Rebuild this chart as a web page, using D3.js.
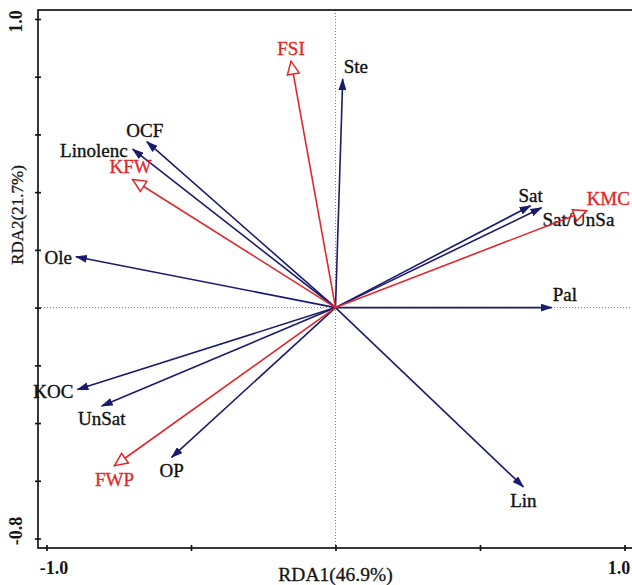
<!DOCTYPE html>
<html><head><meta charset="utf-8">
<script src="https://cdn.jsdelivr.net/npm/d3@7"></script>
<style>body{margin:0;background:#fff;} svg{display:block;} svg text{font-family:"Liberation Serif","Times New Roman",Times,serif;}</style>
</head><body>
<svg id="chart" width="632" height="585"></svg>
<script>
// ---- data ----
const speciesNames = ["Ste","OCF","Linolenc","Ole","Sat","Sat/UnSa","Pal","Lin","KOC","UnSat","OP"];
const speciesRDA1  = [0.025,-0.653,-0.702,-0.898,0.675,0.713,0.748,0.650,-0.893,-0.809,-0.567];
const speciesRDA2  = [0.792, 0.575, 0.549, 0.176,0.353,0.346,0.000,-0.621,-0.284,-0.341,-0.519];
const envNames = ["FSI","KFW","KMC","FWP"];
const envRDA1  = [-0.154,-0.702,0.869,-0.765];
const envRDA2  = [ 0.854, 0.444,0.336,-0.548];
const xTicks = [-1.0,-0.5,0,0.5,1.0];
const yTicks = [-0.8,-0.6,-0.4,-0.2,0,0.2,0.4,0.6,0.8,1.0];
const xTickLabels = {"-1":"-1.0","1":"1.0"};
const yTickLabels = {"-0.8":"-0.8","1":"1.0"};
const xTitle = "RDA1(46.9%)";
const yTitle = "RDA2(21.7%)";

// ---- layout / style ----
const BLUE = "#1b1b6e", RED = "#e0282c", INK = "#151515";
const svg = d3.select("#chart");
const x = d3.scaleLinear().domain([-1,1]).range([46.5,624.5]);
const y = d3.scaleLinear().domain([-0.8,1]).range([538.5,19]);
const fLeft = 38, fTop = 10, fBottom = 548, fRight = 640;

const labelPos = {
  "Ste":{a:"start",dx:1,dy:-6}, "OCF":{a:"middle",dx:-2,dy:-5},
  "Linolenc":{a:"end",dx:-5,dy:8}, "Ole":{a:"end",dx:-4,dy:7},
  "Sat":{a:"middle",dx:0,dy:-4}, "Sat/UnSa":{a:"start",dx:1,dy:18},
  "Pal":{a:"start",dx:1,dy:-7}, "Lin":{a:"middle",dx:0,dy:20},
  "KOC":{a:"end",dx:-4,dy:8}, "UnSat":{a:"middle",dx:0,dy:19},
  "OP":{a:"middle",dx:0,dy:20},
  "FSI":{a:"middle",dx:0,dy:-6}, "KFW":{a:"middle",dx:-2,dy:-6},
  "KMC":{a:"start",dx:0,dy:-6}, "FWP":{a:"middle",dx:0,dy:20}
};

const defs = svg.append("defs");
defs.append("marker").attr("id","headB").attr("viewBox","0 0 12 8")
  .attr("refX",11).attr("refY",4).attr("markerWidth",12).attr("markerHeight",8)
  .attr("markerUnits","userSpaceOnUse").attr("orient","auto")
  .append("path").attr("d","M0,0 L12,4 L0,8 Z").attr("fill",BLUE);
defs.append("marker").attr("id","headR").attr("viewBox","-2 -2 18 16")
  .attr("refX",13).attr("refY",6).attr("markerWidth",18).attr("markerHeight",16)
  .attr("markerUnits","userSpaceOnUse").attr("orient","auto")
  .append("path").attr("d","M0,0 L13,6 L0,12 Z").attr("fill","#fff")
  .attr("stroke",RED).attr("stroke-width",1.5);

// dotted zero lines
svg.append("line").attr("x1",fLeft).attr("x2",fRight).attr("y1",y(0)).attr("y2",y(0))
  .attr("stroke","#777").attr("stroke-width",1).attr("stroke-dasharray","1,2");
svg.append("line").attr("x1",x(0)).attr("x2",x(0)).attr("y1",fTop).attr("y2",fBottom)
  .attr("stroke","#777").attr("stroke-width",1).attr("stroke-dasharray","1,2");

// frame
svg.append("rect").attr("x",fLeft).attr("y",fTop).attr("width",fRight-fLeft).attr("height",fBottom-fTop)
  .attr("fill","none").attr("stroke",INK).attr("stroke-width",1.7);

// axes
const gx = svg.append("g").attr("transform",`translate(0,${fBottom})`)
  .call(d3.axisBottom(x).tickValues(xTicks).tickSize(3).tickSizeOuter(0)
    .tickFormat(d => xTickLabels[String(d)] || ""));
gx.attr("font-family",null);
gx.select(".domain").remove();
gx.selectAll(".tick line").attr("y1",-3).attr("y2",3).attr("stroke",INK).attr("stroke-width",1.7);
gx.selectAll(".tick text").attr("y",13).attr("font-weight","bold")
  .attr("font-size",18).attr("fill",INK)
  .attr("dx", d => d === 1 ? -6 : 7);

const gy = svg.append("g").attr("transform",`translate(${fLeft},0)`)
  .call(d3.axisLeft(y).tickValues(yTicks).tickSize(3).tickSizeOuter(0).tickFormat(""));
gy.attr("font-family",null);
gy.select(".domain").remove();
gy.selectAll(".tick line").attr("x1",-3).attr("x2",3).attr("stroke",INK).attr("stroke-width",1.7);
const yLabOffset = {"-0.8":-8,"1":2};
gy.selectAll(".tick").each(function(d){
  const t = yTickLabels[String(d)];
  if(!t) return;
  d3.select(this).append("text").text(t)
    .attr("transform",`translate(-22,${yLabOffset[String(d)]}) rotate(-90)`)
    .attr("text-anchor","middle").attr("dy","0.35em")
    .attr("font-weight","bold").attr("font-size",18).attr("fill",INK);
});

// titles
svg.append("text").text(xTitle).attr("x",x(0)).attr("y",581).attr("text-anchor","middle")
  .attr("font-size",19.5).attr("fill",INK).attr("stroke",INK).attr("stroke-width",0.3);
svg.append("text").text(yTitle).attr("transform",`translate(23,${(165+265)/2}) rotate(-90)`)
  .attr("text-anchor","middle").attr("font-size",17).attr("fill",INK).attr("stroke",INK).attr("stroke-width",0.3);

// arrows
function drawSet(names, xs, ys, color, marker){
  const d = names.map((n,i)=>({n, vx:xs[i], vy:ys[i]}));
  svg.append("g").selectAll("line").data(d).join("line")
    .attr("x1",x(0)).attr("y1",y(0)).attr("x2",e=>x(e.vx)).attr("y2",e=>y(e.vy))
    .attr("stroke",color).attr("stroke-width",1.6).attr("marker-end",`url(#${marker})`);
  const tc = color===BLUE ? "#111" : RED;
  svg.append("g").selectAll("text").data(d).join("text")
    .attr("x",e=>x(e.vx)+labelPos[e.n].dx).attr("y",e=>y(e.vy)+labelPos[e.n].dy)
    .attr("text-anchor",e=>labelPos[e.n].a)
    .attr("font-size",19)
    .attr("fill", tc).attr("stroke", tc).attr("stroke-width",0.35)
    .text(e=>e.n);
}
drawSet(speciesNames, speciesRDA1, speciesRDA2, BLUE, "headB");
drawSet(envNames, envRDA1, envRDA2, RED, "headR");
</script>
</body></html>
